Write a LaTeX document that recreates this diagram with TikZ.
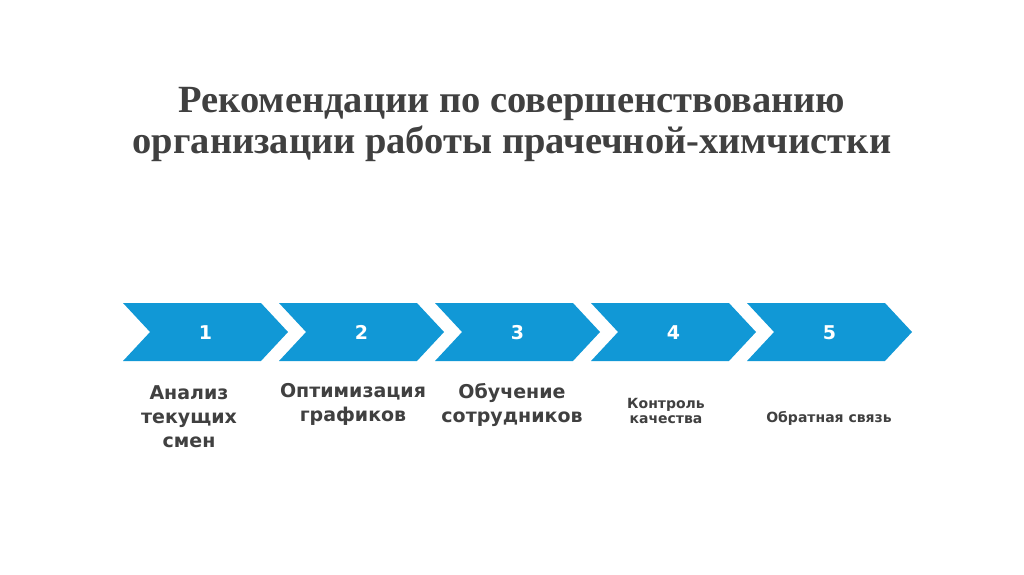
\documentclass[tikz,border=0pt]{standalone}
\usepackage{fontspec}
\setmainfont{Liberation Serif}
\newfontfamily\lblfont{DejaVu Sans}
\usetikzlibrary{shapes.symbols, positioning}

\definecolor{chevblue}{RGB}{17,152,214}
\definecolor{txtgrey}{RGB}{64,64,64}

\begin{document}
\begin{tikzpicture}[
    x=1pt, y=-1pt,
    chev/.style={
        signal, signal to=east, signal from=west, signal pointer angle=94,
        fill=chevblue, draw=none, inner sep=0pt,
        minimum width=165pt, minimum height=58pt,
        text height=14pt, text depth=0pt,
        text=white, font=\lblfont\bfseries\fontsize{19}{22}\selectfont
    },
    bigtag/.style={
        text=txtgrey, align=center, anchor=north, inner sep=0pt,
        font=\lblfont\bfseries\fontsize{19}{24}\selectfont
    },
    smalltag/.style={
        text=txtgrey, align=center, anchor=north, inner sep=0pt,
        font=\lblfont\bfseries\fontsize{14}{15}\selectfont
    },
]

\useasboundingbox[fill=white] (0,0) rectangle (1024,574);

% ============================================================
% Title
% ============================================================

\node[text=txtgrey, align=center, font=\bfseries\fontsize{38.5}{41}\selectfont]
    (title) at (512,124)
    {Рекомендации по совершенствованию\\организации работы прачечной-химчистки};

% ============================================================
% Steps
% ============================================================

\foreach \i in {1,...,5}
    \node[chev] (s\i) at ({205.5+156*(\i-1)},332) {\i};

% Labels under the steps
\node[bigtag] (l1) at (189,385) {Анализ\\текущих\\смен};
\node[bigtag] (l2) at (353,383) {Оптимизация\\графиков};
\node[bigtag] (l3) at (512,383) {Обучение\\сотрудников};
\node[smalltag] (l4) at (666,398) {Контроль\\качества};
\node[smalltag] (l5) at (829,411) {Обратная связь};

\end{tikzpicture}
\end{document}
